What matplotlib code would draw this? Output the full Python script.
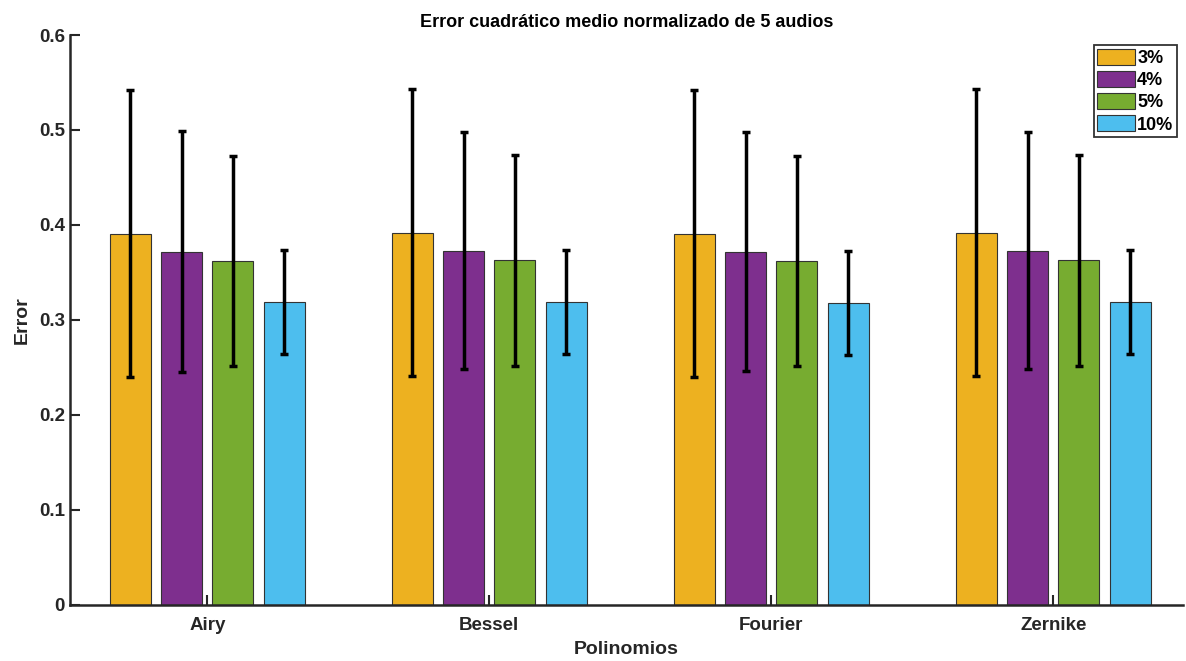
import matplotlib
matplotlib.use('Agg')
import matplotlib.pyplot as plt
import numpy as np

plt.rcParams['font.family'] = ['Liberation Sans', 'DejaVu Sans']
plt.rcParams['font.weight'] = 'bold'

# data
categories = ['Airy', 'Bessel', 'Fourier', 'Zernike']
series = ['3%', '4%', '5%', '10%']
means = [
    [0.391, 0.392, 0.391, 0.392],   # 3%
    [0.372, 0.373, 0.372, 0.373],   # 4%
    [0.362, 0.363, 0.362, 0.363],   # 5%
    [0.319, 0.319, 0.318, 0.319],   # 10%
]
upper = [
    [0.542, 0.543, 0.542, 0.543],
    [0.499, 0.498, 0.498, 0.498],
    [0.473, 0.474, 0.473, 0.474],
    [0.374, 0.374, 0.373, 0.374],
]
colors = ['#EDB120', '#7E2F8E', '#77AC30', '#4DBEEE']

fig = plt.figure(figsize=(11.86, 6.61), dpi=100)
ax = fig.add_axes([0.059, 0.085, 0.9385, 0.862])

x = np.arange(1, len(categories) + 1)
slot = 0.727 / len(series)
width = 0.8 * slot
for i, s in enumerate(series):
    pos = x + (i - (len(series) - 1) / 2) * slot
    m = np.array(means[i])
    err = np.array(upper[i]) - m
    ax.bar(pos, m, width, color=colors[i], edgecolor='#333333', linewidth=0.8, label=s, zorder=2)
    ax.errorbar(pos, m, yerr=err, fmt='none', ecolor='black', elinewidth=2.5,
                capsize=2.6, capthick=2.5, zorder=3)

ax.set_xlim(0.513, 4.46)
ax.set_ylim(0, 0.6)
ax.set_xticks(x)
ax.set_xticklabels(categories)
ax.set_yticks(np.arange(0, 0.61, 0.1))
ax.set_yticklabels(['0', '0.1', '0.2', '0.3', '0.4', '0.5', '0.6'])
ax.tick_params(direction='in', length=7, width=1.5, labelsize=13.5, color='#262626', labelcolor='#262626')
ax.tick_params(axis='x', pad=9)
for side in ['top', 'right']:
    ax.spines[side].set_visible(False)
for side in ['left', 'bottom']:
    ax.spines[side].set_linewidth(1.8)
    ax.spines[side].set_color('#262626')

ax.set_title('Error cuadrático medio normalizado de 5 audios', fontsize=13, fontweight='bold', pad=6)
ax.set_xlabel('Polinomios', fontsize=14, fontweight='bold', color='#262626', labelpad=5)
ax.set_ylabel('Error', fontsize=14, fontweight='bold', color='#262626', labelpad=6)

leg = ax.legend(loc='upper right', bbox_to_anchor=(0.9946, 0.9825), fontsize=13, frameon=True,
                fancybox=False, edgecolor='black', handlelength=2.1, handleheight=1.0,
                handletextpad=0.1, labelspacing=0.22, borderpad=0.2, borderaxespad=0)
leg.get_frame().set_linewidth(1.3)

plt.savefig('out.png', dpi=100)
